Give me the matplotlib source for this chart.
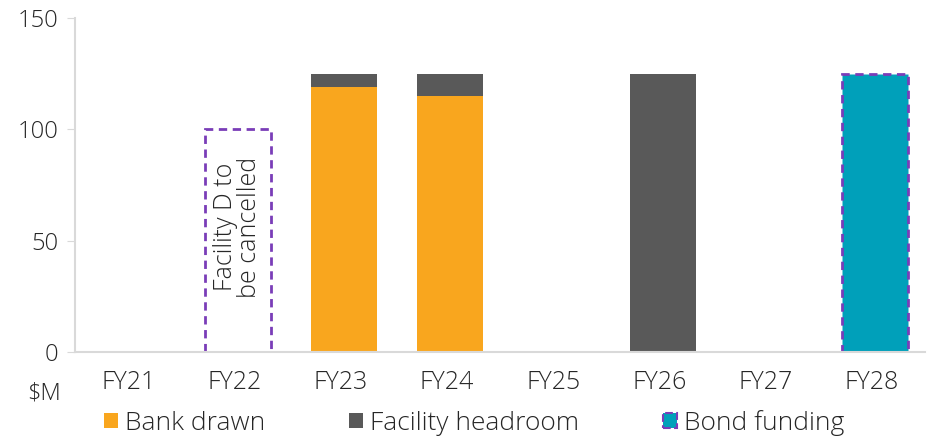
import numpy as np
import matplotlib
matplotlib.use("Agg")
import matplotlib.pyplot as plt
from matplotlib.patches import Patch

# Datos ($M)
years = ["FY21", "FY22", "FY23", "FY24", "FY25", "FY26", "FY27", "FY28"]
bank_drawn = [0, 0, 119, 115, 0, 0, 0, 0]
headroom = [0, 0, 6, 10, 0, 125, 0, 0]
bond_funding = [0, 0, 0, 0, 0, 0, 0, 125]
cancelled = [0, 100, 0, 0, 0, 0, 0, 0]

c_bank = "#F9A61E"
c_head = "#595959"
c_bond = "#00A0BA"
c_purple = "#7A3DB8"
c_axis = "#D9D9D9"
c_text = "#262626"

plt.rcParams["font.family"] = ["Open Sans", "DejaVu Sans"]

fig = plt.figure(figsize=(9.28, 4.36), dpi=100)
ax = fig.add_axes([0.081, 0.193, 0.916, 0.766])

x = np.arange(len(years))
w = 0.62
bank = np.array(bank_drawn)
ax.bar(x + 0.03, bank, w, color=c_bank)
ax.bar(x + 0.03, headroom, w, bottom=bank, color=c_head)
bond_vals = np.array(bond_funding)
ax.bar(x[bond_vals > 0] + 0.03, bond_vals[bond_vals > 0], w, color=c_bond,
       edgecolor=c_purple, linestyle=(0, (3, 2)), linewidth=2)
canc = np.array(cancelled)
ax.bar(x[canc > 0] + 0.03, canc[canc > 0], w, fill=False,
       edgecolor=c_purple, linestyle=(0, (3, 2)), linewidth=2)
ax.text(1.03, 56, "Facility D to\nbe cancelled", rotation=90, ha="center",
        va="center", fontsize=18, color=c_text, linespacing=0.95,
        fontweight="light")

ax.set_xlim(-0.5, len(years) - 0.5)
ax.set_ylim(0, 150)
ax.set_yticks([0, 50, 100, 150])
ax.set_xticks(x)
ax.set_xticklabels(years)
ax.tick_params(axis="y", direction="out", length=6, color=c_axis,
               labelsize=17, labelcolor=c_text, pad=6)
ax.tick_params(axis="x", length=0, labelsize=18, labelcolor=c_text, pad=13)
for lab in ax.get_xticklabels() + ax.get_yticklabels():
    lab.set_fontweight("light")
for s in ["top", "right"]:
    ax.spines[s].set_visible(False)
for s in ["left", "bottom"]:
    ax.spines[s].set_color(c_axis)
    ax.spines[s].set_linewidth(1.5)

fig.text(0.047, 0.097, "$M", fontsize=17, color=c_text, ha="center",
         va="center", fontweight="light")

handles = [Patch(facecolor=c_bank, label="Bank drawn"),
           Patch(facecolor=c_head, label="Facility headroom"),
           Patch(facecolor=c_bond, edgecolor=c_purple, linestyle="--",
                 linewidth=1.5, label="Bond funding")]
leg = fig.legend(handles=handles, loc="center", bbox_to_anchor=(0.511, 0.03),
                 ncol=3, frameon=False, fontsize=19, handlelength=0.53,
                 handleheight=0.53, handletextpad=0.25, columnspacing=3.2,
                 labelcolor=c_text)
for t in leg.get_texts():
    t.set_fontweight("light")

fig.savefig("out.png", dpi=100)
